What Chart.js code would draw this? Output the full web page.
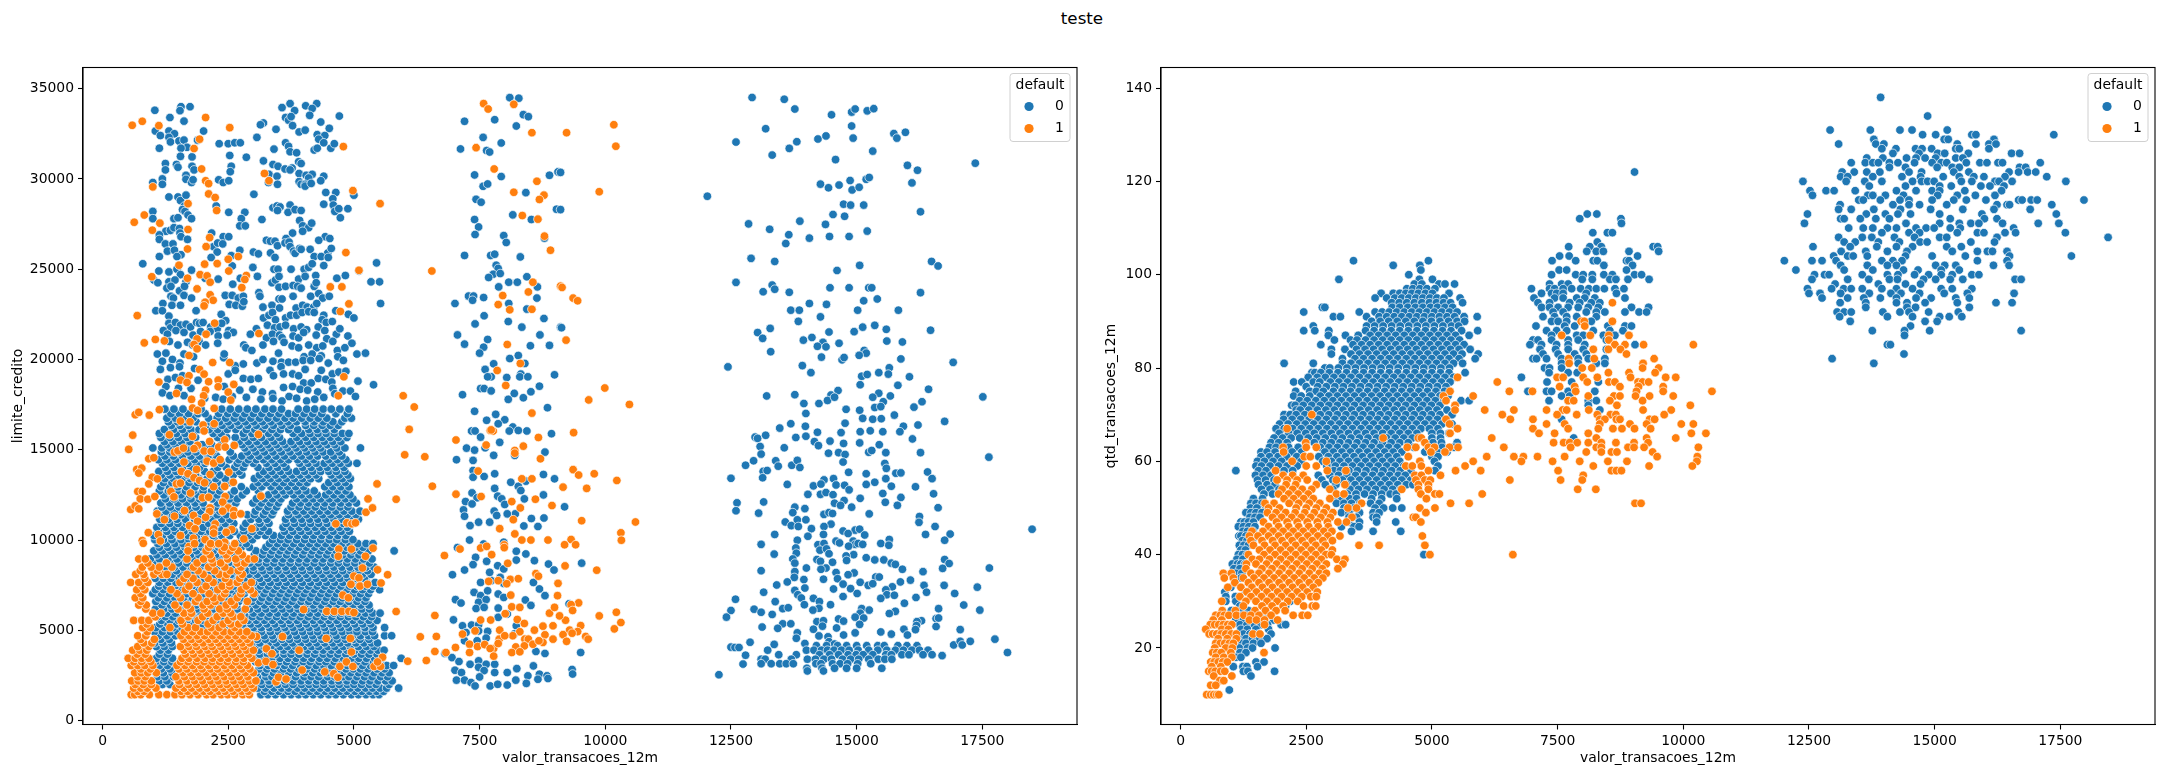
<!DOCTYPE html>
<html>
<head>
<meta charset="utf-8">
<title>teste</title>
<script src="https://cdn.jsdelivr.net/npm/chart.js@4/dist/chart.umd.min.js"></script>
<style>
  html, body { margin: 0; padding: 0; background: #fff; }
  #title { position: absolute; left: 0; width: 2164px; top: 8px; text-align: center;
           font: 16.7px "DejaVu Sans"; color: #000; }
  canvas { position: absolute; top: 0; }
</style>
</head>
<body>
<div id="title">teste</div>
<canvas id="limitChart" width="1082" height="776" style="left:0"></canvas>
<canvas id="qtdChart" width="1082" height="776" style="left:1082px"></canvas>
<script>
// tick labels
const xTicks = [0, 2500, 5000, 7500, 10000, 12500, 15000, 17500];
const limitTicks = [0, 5000, 10000, 15000, 20000, 25000, 30000, 35000];
const qtdTicks = [20, 40, 60, 80, 100, 120, 140];
const groups = ['0', '1'];

// limite_credito, default 0, read as x,y,x,y...
const limitBlueUpper = [
3730,34170,4260,34170,1560,34000,1740,34000,3570,33950,4040,34050,4170,33900,1040,33800,1540,33780,3820,33780,
1340,33400,1620,33200,3640,33400,3700,33250,3750,33450,4120,33520,4710,33480,4340,33150,1050,32650,1150,32400,
1320,32650,1430,32500,2010,32650,3450,32750,3780,32950,3910,32600,4030,32700,4510,32800,3070,32300,3200,33100,
3140,33000,1320,32300,1350,32050,1520,32100,1620,32150,1680,31750,1560,31700,1130,31700,1890,32150,2320,31950,
2500,31950,2630,32000,2740,32000,4270,32450,4420,32400,4300,32200,4400,32000,3640,32000,3700,31800,3730,31500,
3860,31450,4210,31600,4270,31700,4540,31700,3410,31650,4610,31950,2530,31300,2860,31200,1550,31250,1780,31220,
1250,30850,1250,30500,1470,30800,1500,30650,1780,30700,1820,30500,2560,30700,2540,30400,3200,31000,3390,30800,
3490,30700,3630,30550,3770,30600,3730,30500,3900,30950,3950,30850,1660,30200,1660,29980,1770,29800,1800,29950,
3310,30250,3470,30150,3910,30300,4050,30200,4170,30250,4100,30050,4400,30150,1000,29800,1190,30000,1190,29700,
2310,29950,2400,29800,2510,29900,3300,29800,3480,29700,3910,29850,3950,29700,4030,29700,4030,29600,4150,29750,
4340,29900,3010,29150,4440,29250,4640,29250,1320,29000,1500,29000,1550,28800,1660,29100,4400,28600,4580,28900,
4590,28550,5000,29100,2260,28500,1630,28500,1590,28300,1640,28200,2510,28150,2830,28150,3390,28400,3470,28500,
3530,28450,3730,28550,3480,28250,3690,28150,3830,28300,3950,28250,4620,28200,4700,28350,1000,28200,4880,28350,
1000,27800,1420,27800,1500,27850,1700,28000,1770,27800,2760,27800,3170,27750,4730,27850,1260,27100,1350,27150,
1420,27300,1530,27250,1540,27000,1560,26800,2170,27000,2730,27400,2840,27400,3920,27700,3980,27400,4100,27300,
4160,27550,3980,27100,3780,27000,3650,26700,1130,26900,1130,26650,1250,26400,1400,26400,1690,26650,2400,26800,
2510,26800,3260,26600,3340,26550,3430,26550,3480,26300,3630,26450,3710,26500,3730,26250,4430,26800,4520,26700,
4300,26600,1290,26000,1430,26050,1560,25800,2210,26250,2290,26450,2280,25950,2390,26400,2730,26050,3000,25950,
3100,25850,3340,25900,3800,26000,3830,25880,3920,26150,3950,26100,4130,26100,4480,25900,4550,26150,1130,25700,
1480,25700,2160,25650,2560,25750,3430,25650,4210,25700,4350,25700,4490,25650,800,25300,1120,24900,1320,24850,
1480,25000,1550,24700,1770,24950,2040,24500,2580,25180,2990,25100,3410,25000,3490,25000,3750,25000,4010,25000,
4100,25100,4170,25300,4400,25200,1020,24400,1100,24250,1320,24300,1440,24400,1660,24300,2300,24450,2740,24500,
3080,24600,3370,24250,3440,24400,3510,24600,3900,24450,4030,24600,4240,24650,4660,24500,4830,24650,1280,23950,
1360,24050,1530,23800,1630,24050,2590,24170,3510,24000,3640,24050,3790,24100,3880,24050,3950,23950,4210,24050,
4250,24250,5340,24300,5510,24300,5100,24900,5450,25350,1360,23500,1410,23400,1620,23550,1770,23400,2440,23550,
2580,23550,2700,23400,2800,23500,3110,23700,3130,23500,3510,23350,3570,23350,3790,23500,4140,23500,4300,23650,
4380,23400,4510,23500,5530,23100,1200,23100,1380,23000,1550,23000,2030,23100,2520,23050,2650,23000,2780,22950,
2810,23200,3190,22900,3370,23000,3520,22850,3850,22850,3980,23000,4070,22900,4200,22900,4260,23100,4400,22450,
4640,22700,4890,22500,5000,22300,1060,22700,1190,22700,1320,22400,1860,22700,2360,22500,2450,22150,3200,22300,
3310,22450,3380,22600,3440,22200,3640,22300,3740,22450,3860,22450,3970,22600,4100,22650,4210,22600,4370,22200,
4450,22050,4570,22100,1320,22000,1350,21750,1450,22050,1550,21900,1660,21950,1750,21800,1870,22050,1930,22000,
2000,22050,2150,21800,2280,21700,2370,22000,2510,21600,2600,21500,3060,21700,3280,21900,3420,21750,3530,21800,
3640,21900,3800,21700,3950,21800,4060,21650,4290,21800,4420,21600,4650,21400,4720,21700,1210,21600,1290,21400,
1460,21600,1620,21500,1800,21350,1950,21550,2140,21550,2300,21300,2480,21350,2940,21400,3260,21200,3380,21400,
3520,21350,3570,21200,3790,21300,3900,21200,4000,21500,4250,21350,4460,21150,4580,21000,4880,21300,1330,21000,
1500,20800,1690,20950,1790,20800,1920,21000,2050,20800,2290,20900,2810,20800,2850,20650,3190,20800,3400,21000,
3610,20950,3770,20750,3900,20650,4100,20800,4260,20650,4380,20750,4670,20500,4820,20650,4960,20900,1090,20300,
1260,20350,1620,20300,1810,20150,2410,20100,2420,20300,2970,20500,3500,20350,4010,20150,4170,20300,4350,20200,
5060,20300,5230,20350,1190,19900,1390,20000,1540,19800,2640,19650,2800,19750,3070,19800,3190,20000,3390,19900,
3560,19850,3700,19850,3840,19850,3990,19950,4140,19950,4310,20050,4490,19800,4680,20150,4790,19950,1150,19450,
1350,19550,1530,19600,1830,19500,2500,19200,2640,19400,3330,19400,3550,19600,3400,19100,3600,19200,3780,19200,
3900,19100,4030,19450,4350,19400,4570,19200,4700,19300,4840,19350,1300,18900,1450,19000,1590,19100,1900,18850,
2800,18950,2950,18900,3100,18950,4000,18700,4150,18700,4290,18950,4440,18900,4560,18750,5080,18800,5390,18600,
1260,18500,1510,18400,1760,18400,2420,18500,2730,18300,2990,18350,3180,18200,3380,18100,3600,18450,3780,18500,
3930,18350,4080,18300,4280,18200,4580,18400,4780,18250,4930,18250,1190,18150,1340,18000,1620,18000,2030,17850,
2250,17900,2400,17800,2580,17950,2860,17900,3150,17800,3390,17850,3570,17700,3710,17950,3860,17850,4060,17700,
4220,17800,4400,17900,4620,18100,5030,17950
];

// limite_credito, default 0, rows of [limit, valor...] where the marks pile up
const limitBlueDense = [
[1440,3150,3290,3440,3600,3750,3900,4040,4190,4340,4500,4640,4790,4950,5090,5240,5380,5500],
[1620,3220,3370,3510,3690,3830,3980,4120,4270,4430,4560,4720,4860,5020,5160,5310,5450,5590],
[1800,3090,3240,3410,3560,3700,3880,4020,4180,4330,4480,4620,4780,4930,5080,5230,5370,5520,5650,5890],
[2000,1190,1340,3170,3320,3490,3640,3790,3960,4110,4250,4400,4570,4710,4870,5000,5150,5310,5440,5700],
[2200,1130,1280,3150,3310,3480,3620,3790,3950,4100,4260,4400,4560,4700,4860,5010,5170,5320,5480,5630,5760],
[2430,1090,1240,1410,3080,3250,3370,3560,3700,3840,4010,4150,4300,4480,4620,4780,4900,5060,5210,5360,5530,5670],
[2650,1060,1210,1380,3060,3230,3400,3550,3700,3860,4020,4180,4330,4470,4630,4780,4940,5090,5240,5400,5560,5700],
[2860,1170,1340,3110,3270,3420,3600,3740,3910,4060,4220,4360,4510,4680,4840,4990,5130,5280,5460,5610],
[3050,1130,1290,3130,3300,3460,3620,3780,3940,4090,4250,4400,4550,4710,4870,5010,5170,5330,5480,5650,5790],
[3260,1060,1220,1380,3040,3190,3350,3510,3660,3830,3990,4130,4310,4440,4610,4770,4920,5060,5220,5390,5520],
[3450,1070,1230,1390,3050,3210,3370,3530,3690,3850,4000,4160,4320,4470,4630,4790,4950,5100,5250,5410,5550,5940],
[3680,1130,1290,3130,3280,3440,3610,3750,3910,4070,4220,4390,4530,4680,4840,5000,5150,5300,5460],
[3900,1150,1310,3110,3290,3440,3600,3760,3930,4080,4240,4390,4550,4700,4860,5020,5170,5330,5480,5600],
[4100,1070,1230,1390,3030,3210,3350,3530,3680,3840,4010,4160,4300,4480,4620,4790,4930,5090,5250,5400],
[4300,1040,1200,1370,2970,3130,3300,3460,3620,3780,3950,4100,4260,4420,4580,4730,4880,5040,5200,5350,5470],
[4500,1160,1330,3080,3240,3400,3570,3720,3880,4040,4200,4360,4510,4670,4830,4990,5120,5300],
[4700,1110,1280,1450,3060,3220,3380,3550,3700,3860,4020,4180,4340,4490,4650,4810,4970,5130,5290,5410,5610,5750],
[4920,1030,1190,1350,1500,3010,3160,3340,3500,3650,3820,3980,4140,4280,4450,4600,4770,4920,5060,5230,5370],
[5150,1060,1230,1400,1580,1740,1900,2060,2220,2380,2540,2700,2860,3000,3160,3320,3470,3630,3790,3950,4110,4270,4420,4580,4740,4900,5060,5220,5380,5610],
[5350,1140,1300,1470,1640,1810,1970,2130,2290,2460,2620,2790,2950,3100,3270,3430,3590,3740,3910,4060,4220,4390,4540,4700,4850,5020,5180,5340],
[5550,1170,1340,1510,1680,1850,2010,2170,2330,2490,2660,2900,3060,3220,3380,3550,3710,3870,4030,4190,4340,4500,4660,4820,4980,5140,5300,5460],
[5750,1090,1250,1400,1560,1720,1880,2050,2210,2370,2530,2690,2850,2980,3130,3290,3460,3620,3770,3930,4090,4250,4410,4560,4730,4890,5040,5190,5350],
[5950,1120,1280,1450,1620,1790,1960,2120,2280,2440,2600,2760,3000,3160,3320,3480,3640,3800,3960,4120,4280,4440,4600,4750,4910,5070,5230,5370,5520],
[6180,1050,1220,1380,1550,1710,1870,2030,2200,2360,2520,2680,2930,3090,3250,3410,3580,3730,3890,4060,4210,4370,4530,4700,4850,5010,5160,5310],
[6400,1180,1350,1510,1700,1860,2020,2190,2350,2510,2670,2880,3050,3220,3380,3540,3700,3860,4030,4190,4350,4500,4660,4820,4980,5140,5300],
[6600,1060,1230,1390,1570,1730,1900,2060,2220,2390,2550,2710,2970,3130,3300,3450,3610,3770,3950,4100,4250,4420,4590,4730,4900,5060,5220],
[6800,1110,1280,1440,1610,1790,1950,2110,2280,2440,2600,2760,3000,3170,3330,3490,3650,3810,3970,4130,4290,4450,4610,4770,4930,5090,5240],
[7030,1000,1170,1330,1500,1670,1840,2000,2170,2330,2490,2660,2820,3040,3210,3380,3530,3690,3860,4010,4170,4340,4490,4650,4810,4980,5130,5290],
[7250,1050,1210,1380,1550,1720,1890,2060,2220,2390,2550,2710,2870,3090,3250,3410,3570,3730,3890,4050,4210,4370,4530,4690,4850,5010,5170,5330,5510],
[7450,1120,1270,1440,1610,1780,1950,2110,2280,2450,2610,2780,2950,3140,3300,3470,3620,3780,3950,4100,4270,4420,4580,4740,4910,5060,5230,5380],
[7650,1130,1300,1460,1630,1800,1970,2130,2300,2470,2630,2800,3010,3180,3340,3500,3660,3820,3980,4140,4300,4460,4620,4780,4940,5100,5260,5420],
[7880,1050,1210,1360,1530,1700,1870,2030,2200,2370,2530,2700,2860,2980,3130,3290,3460,3610,3770,3930,4090,4250,4410,4570,4730,4880,5050,5210],
[8100,1220,1390,1550,1720,1890,2060,2220,2390,2560,2720,2920,3080,3250,3410,3570,3730,3890,4050,4210,4370,4530,4690,4850,5010,5170,5340],
[8300,1140,1300,1470,1640,1810,1970,2140,2310,2470,2640,2850,3000,3190,3340,3490,3660,3820,3980,4140,4300,4460,4610,4780,4940,5100,5270],
[8500,1090,1260,1430,1600,1770,1940,2100,2270,2430,2600,2770,3000,3160,3320,3480,3640,3800,3960,4120,4280,4440,4600,4760,4920,5080,5240,5400],
[8730,1000,1170,1340,1510,1680,1850,2010,2180,2350,2510,2680,2930,3100,3260,3410,3570,3730,3900,4050,4210,4370,4540,4690,4860,5020,5170,5310],
[8950,950,1130,1300,1480,1650,1820,1990,2150,2320,2490,2650,2800,2950,3110,3270,3430,3590,3750,3910,4070,4230,4390,4550,4710,4870,5030,5190,5360],
[9180,1080,1250,1420,1580,1750,1920,2090,2250,2420,2590,3020,3180,3340,3500,3660,3820,3980,4150,4300,4460,4620,4780,4940,5100,5250],
[9400,1020,1190,1360,1530,1700,1870,2040,2200,2370,2540,3050,3210,3370,3530,3690,3850,4010,4170,4330,4490,4650,4810,4970,5130,5290,5800],
[9600,1130,1300,1470,1640,1810,1980,2150,2310,2480,2760,2920,3250,3420,3580,3740,3910,4060,4220,4380,4540,4700,4860,5030,5180],
[9800,1100,1270,1440,1600,1770,1940,2110,2280,2450,2700,2860,3320,3480,3640,3800,3960,4120,4280,4440,4600,4760,4920,5080,5240,5380],
[10020,1040,1210,1380,1560,1720,1880,2050,2220,2390,2770,2980,3380,3540,3690,3860,4020,4180,4340,4510,4660,4830,4980],
[10250,1020,1190,1360,1530,1700,1870,2030,2200,2370,2530,2740,2900,3080,3240,3400,3560,3720,3880,4040,4200,4360,4520,4680,4840],
[10480,1110,1280,1450,1620,1790,1960,2130,2290,2460,2620,2810,2980,3140,3300,3620,3790,3950,4110,4270,4430,4590,4750,4910],
[10700,1080,1250,1420,1590,1750,2000,2170,2330,2490,2800,3060,3200,3590,3750,3910,4070,4230,4390,4550,4710,4870],
[10920,1170,1340,1500,1670,1840,2110,2280,2440,2610,2850,3130,3310,3650,3820,3980,4140,4300,4470,4620,4790,4950],
[11150,1140,1310,1480,1650,1830,2000,2190,2370,2530,2950,3110,3270,3640,3800,3960,4120,4280,4440,4600,4760,4920,5090],
[11400,1220,1390,1560,1760,1930,2100,2280,2460,2880,3020,3200,3370,3700,3890,4060,4220,4380,4540,4710,4870,5040],
[11600,1090,1260,1430,1600,1770,1950,2160,2330,3040,3240,3400,3680,3840,4000,4160,4320,4480,4640,4800,4960,5120],
[11830,1180,1350,1520,1690,1860,2040,2250,2430,2600,3110,3290,3460,3750,3910,4080,4230,4400,4560,4730,4880],
[12050,1160,1330,1500,1670,1840,2000,2290,2470,2650,2990,3160,3330,3500,3780,3940,4100,4260,4420,4580,4740,4900,5050],
[12280,1250,1420,1590,1760,1930,2180,2360,2530,2680,3060,3220,3380,3550,3860,4030,4190,4340,4510,4670,4830,4980],
[12500,1220,1390,1560,1730,1900,2070,2280,2540,2780,3300,3470,3640,3800,3960,4120,4270,4440,4600,4760,4920],
[12720,1130,1310,1480,1650,1810,2000,2170,2330,2620,2860,3100,3420,3590,3730,3890,4050,4210,4510,4680,4840],
[12950,1160,1330,1500,1670,1840,2010,2370,2760,3000,3170,3350,3520,3680,3840,4000,4420,4580,4740,4900],
[13180,1210,1380,1550,1720,1890,2100,2280,2520,3090,3260,3430,3600,3760,3920,4070,4500,4670,4830],
[13400,1240,1410,1580,1750,1920,2080,2250,2440,3020,3180,3340,3500,3660,3820,3980,4140,4300,4610,4770,4930],
[13600,1170,1340,1510,1680,1850,2150,2330,2600,2770,3120,3280,3440,3600,3770,3930,4090,4250,4550,4710,4880],
[13800,1120,1290,1460,1630,2030,2200,2720,3200,3370,3540,3700,3860,4020,4180,4340,4500,4650,4820],
[14020,1250,1420,1590,1760,1930,2290,2460,2630,2800,3090,3310,3480,3650,3980,4150,4320,4470,4640,4800],
[14250,1190,1360,1530,1700,1870,2040,2360,2680,2840,3000,3260,3430,3600,3920,4090,4250,4410,4570,4730,4890,5060],
[14450,1110,1280,1450,1660,1830,2000,2170,2520,2710,2900,3060,3200,3370,3540,3700,3880,4040,4200,4500,4670,4840],
[14650,1240,1410,1590,1760,1930,2100,2270,2600,2770,2940,3110,3280,3450,3620,3790,3960,4120,4280,4440,4600,4760],
[14880,1170,1340,1520,1700,1860,2030,2190,2540,2880,3050,3220,3390,3560,3730,3900,4060,4230,4390,4540,4710],
[15100,1000,1180,1340,1510,1690,1860,2040,2250,2830,3000,3170,3340,3510,3680,3850,4020,4180,4340,4660,4820,5130],
[15280,1280,1450,1620,1800,1980,2170,2360,2620,2780,2950,3120,3290,3460,3630,3800,3970,4140,4300,4470,4620],
[15450,1230,1400,1570,1740,2720,2900,3070,3240,3410,3580,3750,3920,4080,4250,4410,4580,4740],
[15680,1160,1340,1510,1680,1850,2290,2470,2640,2820,3000,3160,3350,3520,3860,4040,4200,4370,4530,4690,4860],
[15900,1130,1300,1470,1640,1800,2200,2360,2800,2970,3300,3470,3790,3960,4130,4290,4450,4610,4770,4900],
[16120,1230,1410,1590,1760,1920,2120,2290,2480,2650,2860,3030,3180,3370,3540,3700,3880,4100,4270,4430,4610],
[16350,1370,1540,1710,2050,2210,2380,2550,2720,2890,3060,3230,3400,3570,3740,4040,4200,4370,4530,4690],
[16550,1310,1490,1660,1860,2130,2330,2500,2680,2840,3010,3180,3350,3530,3690,3860,4030,4210,4390,4580,4760],
[16750,1280,1450,1620,1800,2110,2280,2450,2620,2780,2950,3120,3290,3460,3630,3790,3960,4130,4290,4460,4820,4950],
[17000,1360,1530,1710,1900,2040,2310,2490,2650,2830,3000,3170,3340,3510,3700,3840,4010,4180,4360,4640,4870],
[17250,1240,1420,1600,1960,2370,2540,2710,2880,3050,3230,3390,3560,3890,4060,4220,4390,4550,4720,4900]
];

// mid group of the same series, x,y,x,y...
const limitBlueMid = [
8100,34500,8280,34470,7200,33190,7800,33280,8370,33560,8470,33450,8230,32930,7570,32300,7930,31990,7120,31660,
7640,31570,7700,31490,7400,30220,7930,30130,8890,30200,9060,30390,7570,29590,7660,29720,8420,29240,7430,28870,
7530,28710,9030,28320,8160,28010,7400,27750,8530,27750,7480,27340,7410,26920,7980,26860,8030,26480,8790,26720,
7200,25760,7720,25760,7800,25830,8310,25680,7830,25220,7870,25040,7770,24720,7910,24760,7680,24540,8440,24580,
8080,24280,8250,24280,8650,24020,7880,24020,7280,23510,7380,23510,7360,23280,7580,23430,8640,23400,7010,23100,
8080,23100,8440,22790,7590,22420,8780,22270,7410,21970,8070,22100,8340,21790,9110,21790,7060,21360,8700,21360,
7200,20850,7660,21110,7580,20680,8510,20760,8890,20780,7500,20350,8270,20220,8100,20050,7780,19760,8400,19780,
7610,19450,7730,19040,7660,19040,8320,19190,8300,19040,8460,19040,8990,19150,8040,19000,8690,18520,7520,18390,
7590,18390,7730,18260,8190,18120,8520,18210,7160,18050,8070,17790,8370,17880,7400,17130,8850,17330,7820,16960,
7640,16630,8000,16660,7870,16440,7340,16040,7410,16040,8160,16260,7520,15700,8090,16040,8440,16040,8270,16070,
8930,15890,7900,15410,7240,15090,7400,14980,7610,15110,8800,14870,7780,14690,8200,14690,7040,14450,7370,14410,
7370,13850,7800,13670,7370,13480,7590,13520,8770,13630,8990,13390,8120,13200,8420,13260,8270,12970,8320,12740,
7800,12860,7350,12610,7450,12340,7860,12430,7940,12280,8390,12280,8770,12500,7220,12130,7350,12000,8000,11970,
7180,11670,7790,11600,7200,11320,7840,11360,8210,11450,8050,11450,7480,10990,7700,10990,8530,11190,8780,11220,
7310,10800,8380,10780,8660,10750,7300,10000,7060,9580,7580,9780,7980,9880,8420,9230,8230,8890,8230,9380,
8590,8860,7420,9040,7640,8820,7370,8640,7200,8340,6960,8080,7860,8580,7700,8210,7980,8400,8870,8670,
8980,8340,7520,7650,7730,7750,7910,7930,7980,7600,8570,7650,8690,7290,7390,7100,7520,6920,7660,7190,
7870,7010,7980,6820,8800,6920,7020,6700,7130,6510,7480,6550,7630,6700,8410,6680,8520,6380,7430,6210,
7870,6230,7590,6270,8050,5900,6980,5580,7160,5250,7340,5290,7480,5310,7870,5720,8230,5250,7230,4880,
7480,4970,7660,4940,8190,4800,7200,4420,7450,4420,7630,4570,8620,3830,8800,3720,6810,3720,6950,3490,
7090,3270,7310,3120,7480,3310,7630,3120,7800,3120,7010,2790,7140,2660,7480,2950,7590,2770,7800,2660,
8050,2660,8240,2880,8460,2480,8690,2570,8840,2480,8570,3030,7040,2240,7200,2240,7330,2110,7410,1920,
7500,2420,7710,1920,7860,2010,8050,1970,8220,2240,8430,2060,8660,2290,8860,2330,9110,30360,9110,28300,
9130,21760,9190,11840,9530,8720,9280,6470,9510,3770,9340,2830,9350,2580
];

// far group of the same series
const limitBlueFar = [
12920,34510,13560,34410,13770,33870,14500,33550,14900,33700,14970,33870,15210,33770,15340,33890,14900,32930,13190,32780,
12600,32040,13810,32060,13660,31690,13320,31320,14230,32210,14390,32380,14930,32260,15740,32510,15800,32260,15970,32580,
15320,31540,14580,31070,16010,30750,16210,30480,17360,30870,14280,29710,14440,29510,14650,29660,14870,29910,14910,29390,
15050,29540,15190,29980,15250,30080,16100,29780,12030,29040,14740,28600,14880,28550,15140,28550,16270,28180,14530,28030,
14760,27930,12850,27510,13270,27210,13870,27660,14380,27480,13650,26910,14060,26720,14460,26810,14850,26810,15210,27110,
13590,26420,12900,25600,13370,25430,15060,25210,14610,24930,16490,25430,16620,25180,12600,24270,13320,24120,13370,23890,
13140,23750,13660,23720,14470,23970,14850,23970,15240,23970,15300,23970,16270,23700,14400,23050,14060,23100,15140,23250,
15410,23350,13690,22730,13860,22730,15020,22730,15830,22730,14280,22360,13840,22110,13280,21720,15120,21790,15360,21890,
15590,21670,16470,21620,13030,21490,14450,21520,14950,21540,13130,21170,13940,21070,14110,21220,14330,20950,14650,20900,
15600,21020,15910,20970,14220,20730,14390,20700,13290,20430,15150,20500,15190,20350,15050,20230,14300,20130,14710,19980,
14750,20110,15880,20030,12440,19590,13920,19660,15650,19540,16920,19840,14090,19270,15440,19270,15630,19190,15100,19070,
15210,19170,16050,19040,15070,18600,15820,18570,16430,18350,13770,18050,13210,17980,14490,18030,14630,18280,15440,18130,
15320,17910,15670,17980,17510,17930,13950,17560,14250,17560,14420,17730,14560,17910,15530,17660,16300,17660,14790,17240,
15060,17190,15360,17340,15480,17390,16140,17360,13990,17010,15750,16920,15120,16740,15320,16690,15490,16720,16750,16570,
13690,16440,13980,16300,14770,16470,13470,16200,15930,16300,16220,16370,12980,15700,13030,15630,13190,15800,14220,15970,
14690,15950,15070,16000,15270,16050,15520,16000,15860,16000,13790,15680,13990,15750,14160,15450,14470,15480,16110,15600,
13080,15180,14240,15230,14740,15350,15060,15380,15450,15280,13560,15110,13100,14760,14440,14810,14640,14840,14770,14740,
15240,14860,15300,14960,15580,14840,16270,14840,17630,14590,12950,14390,12790,14140,13390,14390,13440,14090,13710,14140,
13820,14410,13870,14020,14730,14320,15560,14240,15590,13970,13140,13800,13220,13850,14840,13750,15190,13670,15780,13700,
15880,13720,16410,13770,12500,13420,13130,13450,14350,13330,14540,13400,15580,13400,15360,13200,16500,13400,13620,13080,
14140,13000,14290,13100,14590,13050,14760,13030,14850,12780,15190,13080,15690,12980,16170,12950,14030,12530,14280,12530,
14390,12630,14530,12510,15520,12580,16530,12560,13150,12110,12620,12060,14750,12190,15070,12310,15570,12090,15880,12360,
14560,12040,14680,11920,15810,11920,12600,11620,13770,11820,13970,11740,14900,11820,16620,11790,13050,11490,13730,11520,
14350,11420,14450,11520,14520,11470,15250,11450,16250,11300,13820,11120,13990,11120,13580,11000,13700,10800,13840,10750,
14100,10630,14490,10880,14350,10750,16240,10980,16560,10750,14730,10500,14970,10550,15060,10600,14830,10360,13370,10310,
14030,10210,14340,10310,15160,10280,16370,10310,16860,10330,13820,9990,14590,9940,14660,9840,14930,9940,15650,10030,
16750,9990,13100,9760,13790,9560,14230,9740,14350,9810,14970,9760,14840,9660,15030,9810,15120,9760,15480,9810,
15640,9710,13360,9220,13800,9270,14270,9440,14400,9510,14450,9240,14940,9190,14790,9120,13730,8950,14210,8920,
14280,8820,14520,8770,14800,8870,15190,9020,15360,8900,15540,8900,16750,8920,16840,8700,13770,8720,15690,8720,
15770,8650,14000,8450,14390,8450,14290,8380,13100,8300,15910,8380,16710,8430,16320,8250,17640,8450,13770,8250,
14590,8200,14950,8180,14830,8080,13760,7930,13950,7810,14340,7830,14620,7860,15380,7950,15450,7950,13620,7680,
13410,7510,14730,7560,15070,7660,15230,7490,15320,7580,15870,7680,16070,7780,16340,7490,16740,7490,17400,7390,
13770,7210,13970,7340,14880,7310,14540,7290,15710,7410,15580,7240,13150,7110,13830,6970,16390,7110,15600,6970,
15750,6940,16950,7040,14140,6770,13900,6790,14260,6590,14730,6870,15010,7040,15480,6770,16180,6820,12590,6720,
13380,6590,13960,6420,14480,6420,14250,6220,15950,6500,17130,6400,13530,6200,13640,6250,12960,6170,14130,6120,
15100,6200,15250,6120,15770,6050,15650,5930,16630,6200,17450,6120,12500,6100,13100,6000,15070,5950,12410,5730,
13320,5880,14970,5730,15140,5680,14640,5630,14740,5510,16580,5650,16630,5680,14210,5480,14340,5530,16290,5530,
16200,5480,13530,5360,13690,5360,15060,5330,13120,5180,13430,5110,14140,5060,14320,5230,14600,5130,16190,5260,
16580,5210,15940,5060,17060,5040,15480,4910,15690,4790,16170,5040,13820,4860,14970,4860,14740,4740,14250,4690,
13800,4560,14430,4640,16010,4740,17750,4510,12880,4340,13360,4220,13970,4270,14450,4370,14560,4240,
12500,4070,12580,4050,12660,4050,12790,3620,12740,3130,12260,2540,16700,3600,16930,4190,17060,4390,17100,4190,
17260,4390,18000,3770,18490,10600
];
const limitBlueFarBand = [
[4150,14200,14400,14620,14800,15000,15200,15420,15550,15820,16000,16200],
[3900,13230,14000,14150,14300,14420,14550,14700,14850,15030,15240,15420,15600,15770,15930,16100,16250,16420],
[3650,13450,13800,14260,14460,14640,14830,14990,15130,15320,15580,15690,15900,16040,16320,16500],
[3400,13100,13180,13700,14020,14180,14350,14500,14720,14880,15040,15240,15430,15560,15700],
[3150,13100,13300,13470,13600,13740,14190,14290,14520,14670,14820,15020,15280],
[2900,14010,14310,14560,14800,15000,15500],
[2750,14020,14340]
];

// limite_credito, default 1
const limitOrangeSparse = [
590,32970,790,33190,1120,32950,2050,33400,2530,32840,1930,32200,1820,31680,1970,30550,2050,29900,2110,29740,
1000,29560,2110,29170,2240,28970,1700,28630,2270,28250,830,28000,630,27600,1140,27550,990,27160,1700,27200,
2130,26750,2060,26250,1690,26120,2700,25700,2500,25550,1520,25220,2030,25280,2280,25310,2510,24900,980,24580,
1690,24500,1940,24700,2080,24630,2140,24280,2860,24650,2830,24430,1880,23910,2770,23980,2140,23580,2200,23280,
2040,23170,2020,22970,690,22430,2230,22010,3110,21440,2060,21400,1880,21140,1820,20830,1050,21110,1230,21030,
830,20920,1880,20590,1720,20220,2190,19830,2530,19830,1930,19440,2020,19190,1720,19100,1550,18860,1120,18750,
1680,18730,2110,18770,2300,18860,2610,18620,2300,18490,2050,18300,1470,18120,2010,17990,2500,18190,1770,17790,
2550,17750,3220,30300,3310,29900,4790,31790,4980,29350,5520,28630,4840,25920,4530,24020,4760,24020,4900,23080,
4730,22660,5100,24940,6550,24900,4800,19040,4690,17990,5980,17990,7580,34170,7670,33870,8180,34130,8540,32560,
7430,31730,7790,30550,8640,29870,8180,29260,8780,29100,8690,28860,8350,27970,8660,27770,8790,26830,8910,26050,
9110,24060,8560,24280,8470,23740,7960,23540,7870,23040,8100,22750,8540,22780,8050,20830,8310,19780,7850,19390,
8020,18560,10170,33000,9230,32560,10210,31810,9880,29290,9140,23990,9360,23400,9450,23250,9220,21070,9990,18420,
9670,17760,10480,17510,9370,15950,9360,13900,9470,13600,9780,13670,10230,13300,9160,12930,9630,12860,9530,11070,
10600,11000,10310,10400,10320,9990,9320,10030,9190,9740,9410,9740,9200,8570,9830,8330,9470,6520,9320,6420,
9350,6100,10220,6000,9880,5800,9210,5560,10310,5430,10180,5080,9510,5260,9290,5010,9450,4930,9340,4840,
9160,4760,9610,4660,9660,4510,9230,4390,6200,17370,6100,16130,7030,15540,6010,14720,6410,14610,6560,12980,
5460,13110,7030,12540,5840,12260,5280,12280,5240,11540,5370,11780,6800,9140,5670,8080,5540,7620,5840,6040,
6610,5820,6640,4660,6320,4640,6070,3290,6440,3330,5570,3510,6610,3830,6830,3770,7020,4050,7160,4790,
7110,9500,7530,12410,7470,13820,7630,15260,7710,16070,7770,16040,7730,16100,8540,17030,8200,14960,8200,14810,
8370,15200,8670,15680,8710,14500,8340,13390,8540,13390,8610,12260,8940,11910,8140,12130,8310,11780,8170,11130,
7900,10630,8200,10340,8340,10000,8520,10000,8860,10000,7520,9560,7640,9650,7990,9730,7990,9580,7740,9190,
8060,8710,8620,8140,8670,8000,7680,7710,7870,7750,8110,7820,8270,7860,8040,7580,8120,6950,8140,6300,
8300,6270,8010,5920,8890,5950,8990,6270,9060,7600,9050,6920,9090,5800,7520,5570,7720,5570,8250,5600,
8390,5380,7410,4970,7900,5010,8300,4920,8590,5010,8760,5230,8960,5250,7890,4510,8160,4700,8000,4700,
8400,4510,8470,4510,8800,4750,8960,4510,7300,4230,7460,4100,7600,4210,7780,3990,7870,4270,8220,4080,
8390,4140,8560,4230,8760,4330,7300,3770,7710,3990,7780,3570,8140,3770,8300,3810,8680,4420,
520,15020,600,15810,650,16940,720,17070,930,16920,1130,17220,2220,17290,1790,17310,1890,17180,1970,17590,
1550,16590,1740,16550,2220,16440,2000,16370,2020,16040,1330,15830,1790,15740,3100,15850,1890,15240,2430,15550,
2130,15460,2620,15240,2310,15150,2440,15150,1430,14870,1500,14940,1610,15090,1820,15060,2020,14930,2160,14910,
920,14500,1020,14560,1620,14320,2080,14370,2210,14260,2340,14450,680,13910,780,13980,720,13710,1570,13800,
1700,13670,1870,13910,2140,13630,2510,13760,990,13480,1090,13390,1820,13450,1930,13300,1470,13110,1550,13150,
2030,13170,2210,12950,2430,12970,2600,13200,920,13110,700,12690,790,12690,1360,12690,1750,12600,1420,12390,
750,12280,900,12260,1040,12410,1990,12340,2110,12370,2440,12410,3150,12430,2390,12100,560,11690,650,11890,
720,11730,2140,11780,2500,11780,2610,11630,1630,11630,2130,11580,2390,11600,1080,11450,1430,11320,1810,11360,
2610,11360,2750,11450,1230,11130,2050,11260,1890,11040,2240,10890,1730,10800,1840,10620,2210,10620,2570,10580,
2970,10630,910,10410,2460,10430,1110,10300,1550,10250,2210,10380,1810,10100,2040,10020,790,9970,810,9820,
1150,9950,1720,9640,2180,9750,2430,9880,2810,10060,4640,10900,4860,10950,4960,10900,5030,10950,4700,9500,
4950,9500,5380,9550,5230,9100,4690,9100,5170,8450,5470,8350,5000,8000,5100,7900,4940,7550,5120,7450,
5270,7550,4780,6950,4890,6800,3910,3900,4000,6150,4460,6050,4610,6050,4760,6050,4900,6050,5000,5980,
3580,4650,3060,4650,4450,4550,4930,4550,3260,3980,3370,3700,3100,3200,3250,3280,3390,3100,3450,2150,
3500,2400,3650,2300,3970,2800,4420,2700,4600,2600,4680,2400,4720,3000,4850,3250,4950,3800,4980,3000,
5400,3000,5530,3000,5470,3250
];
const limitOrangeDense = [
[1440,570,640,760,930,1120,1280,1440,1580,1740,1900,2070,2200,2360,2490,2630,2790,2920],
[1620,700,830,1560,1690,1850,2010,2140,2310,2440,2600,2770,2900],
[1800,620,760,890,1060,1460,1620,1770,1930,2080,2240,2400,2550,2700,2850,3000],
[2000,650,810,970,1530,1710,1870,2030,2190,2340,2480,2660,2800,2960],
[2200,580,710,830,970,1520,1680,1830,1990,2150,2300,2460,2610,2760,2920,3050],
[2430,700,850,1460,1630,1790,1940,2110,2260,2420,2570,2720,2890],
[2650,640,770,900,1070,1600,1750,1910,2060,2220,2370,2530,2680,2840,3000],
[2860,760,950,1520,1680,1840,1980,2150,2290,2460,2620,2770,2930],
[3050,570,700,840,1000,1480,1640,1790,1950,2110,2260,2420,2570,2730,2880],
[3260,620,780,960,1550,1700,1870,2020,2180,2330,2480,2650,2800],
[3450,510,650,780,920,1580,1720,1880,2040,2190,2350,2500,2660,2810,2970],
[3680,690,850,1650,1810,1970,2130,2280,2440,2590,2750,2910],
[3900,600,740,880,1620,1780,1930,2090,2240,2400,2550,2710,2860,3000],
[4100,700,920,1550,1720,1870,2040,2180,2350,2510,2650,2810],
[4300,820,980,1690,1850,2000,2160,2310,2470,2620,2780,2930],
[4500,760,1030,1610,1770,1920,2110,2250,2410,2560,2720,2880],
[4700,700,860,1560,1720,1880,2030,2190,2340,2500,2650,2810,2960],
[4920,890,1630,1790,1950,2090,2260,2410,2560,2720,2870],
[5150,800,950,1340,1700,1850,2160,2320,2630],
[5350,880,1590,2100,2400,2550,2710],
[5550,620,780,920,1560,1900,2200,2500,2810],
[5750,1050,1700,1990,2280,2600,2750],
[5950,1000,1160,1620,1770,2090,2400,2550],
[6180,860,1500,1750,2020,2330,2480,2840],
[6400,720,870,1440,1680,2000,2150,2460,2620],
[6600,760,1850,2080,2240,2560,2880],
[6800,650,800,1550,1900,2210,2360,2680],
[7030,760,1480,1800,2120,2430,2750,3010],
[7250,680,840,1360,1650,1980,2290,2450,2760,2940],
[7450,790,1720,2060,2380,2530,2860],
[7650,560,720,900,1540,1880,2200,2520,2680,2960],
[7880,840,1620,1800,2100,2440,2730],
[8100,660,820,1020,1180,1280,1680,2000,2320,2470,2780],
[8300,750,1090,1900,2230,2540,2700],
[8500,790,970,1130,1380,1810,2110,2430,2750],
[8730,900,1270,1880,2200,2350,2680,2830],
[8950,720,850,1680,2010,2170,2490,2650,2900,3020],
[9180,2140,2460,2780],
[9400,1700,2060,2380,2540,2700],
[9600,2110,2420,2590],
[9800,1830,2150,2310,2630]
];

// qtd_transacoes_12m rows, [qtd, valor...]
const qtdBlueMain = [
[103,3440,4930],[102,4230,4760],[101,4780],[100,4540],[99,3150,4750,5010],[98,4650,4800,5140,5260,5450],
[97,4500,4620,4760,4900,5060],[96,3990,4230,4360,4480,4600,4730,4870,5010,5340],
[95,3870,4100,4260,4400,4540,4680,4820,4960,5100,5240,5560],[94,4200,4350,4500,4650,4800,4950,5090,5230,5370,5610],
[93,2820,2870,4210,4360,4520,4670,4820,4970,5110,5260,5410],
[92,2450,3555,3870,4010,4150,4300,4450,4600,4750,4900,5050,5200,5350,5500],
[91,3040,3180,3700,3950,4100,4250,4400,4550,4700,4850,5000,5150,5300,5450,5640,5900],
[90,3800,3970,4140,4310,4480,4650,4820,4990,5160,5330,5500,5650],
[89,2640,3700,3860,4030,4200,4370,4540,4710,4880,5050,5220,5390,5530],
[88,2450,2670,2950,3680,3850,4020,4190,4360,4530,4700,4870,5040,5210,5380,5590,5910],
[87,2940,3280,3535,3770,3940,4110,4280,4450,4620,4790,4960,5130,5300,5470,5740],
[86,3060,3380,3510,3680,3850,4020,4190,4360,4530,4700,4870,5040,5210,5380,5550],
[85,2790,3430,3600,3770,3940,4110,4280,4450,4620,4790,4960,5130,5300,5470,5640],
[84,3000,3270,3500,3670,3840,4010,4180,4350,4520,4690,4860,5030,5200,5370,5540,5760],
[83,3000,3390,3560,3730,3900,4070,4240,4410,4580,4750,4920,5090,5260,5430,5600,5920],
[82,3220,3470,3640,3810,3980,4150,4320,4490,4660,4830,5000,5170,5340,5540,5860],
[81,2060,2640,3220,3390,3560,3730,3900,4070,4240,4410,4580,4750,4920,5090,5260,5430,5610],
[80,2870,2970,3140,3310,3480,3650,3820,3990,4160,4330,4500,4670,4840,5010,5180,5350],
[79,2610,2670,2790,2960,3130,3300,3470,3640,3810,3980,4150,4320,4490,4660,4830,5000,5170,5340,5660],
[78,2540,2720,2880,3050,3220,3390,3560,3730,3900,4070,4240,4410,4580,4750,4920,5090,5260,5430],
[77,2250,2410,2640,2770,2980,3150,3320,3490,3660,3830,4000,4170,4340,4510,4680,4850,5020,5190,5360],
[76,2500,2730,2900,3070,3240,3410,3580,3750,3920,4090,4260,4430,4600,4770,4940,5110,5280],
[75,2290,2570,2700,2840,3040,3210,3380,3550,3720,3890,4060,4230,4400,4570,4740,4910,5080,5250],
[74,2250,2400,2570,2780,2950,3120,3290,3460,3630,3800,3970,4140,4310,4480,4650,4820,4990,5160,5320],
[73,2370,2520,2690,2860,3030,3200,3370,3540,3710,3880,4050,4220,4390,4560,4730,4900,5070,5240,5580,5740],
[72,2210,2280,2440,2610,2780,2950,3120,3290,3460,3630,3800,3970,4140,4310,4480,4650,4820,4990,5160],
[71,2300,2380,2550,2720,2890,3060,3230,3400,3570,3740,3910,4080,4250,4420,4590,4760,4930,5100,5300],
[70,2060,2180,2300,2470,2780,2950,3120,3290,3460,3630,3800,3970,4140,4310,4480,4650,4820,4990,5160,5400],
[69,2050,2220,2390,2560,2730,2900,3070,3240,3410,3580,3750,3920,4090,4260,4430,4600,4770,4940,5110],
[68,1970,2140,2310,2480,2650,2820,2990,3160,3330,3500,3670,3840,4010,4180,4350,4520,4690,4860,5030,5200,5400],
[67,1900,2060,2230,2400,2570,2740,2910,3080,3250,3420,3590,3760,3930,4100,4270,4440,4610,4780,4950,5120],
[66,1960,2150,2320,2490,2660,2830,3000,3170,3340,3510,3680,3850,4020,4190,4360,4530,4700,5000,5170,5340],
[65,1860,2030,2200,2370,2540,2710,2880,3050,3220,3390,3560,3730,3900,4100,4270,4440,4610,5000,5170],
[64,1800,1950,2120,2660,2830,3000,3170,3340,3510,3680,3850,4020,4190,4360,4530,5020,5190,5500],
[63,1770,1900,2150,2340,2780,2950,3120,3290,3460,3630,3800,3970,4140,4310,4640,5200,5440],
[62,1600,1720,1880,2220,2410,2870,3040,3210,3380,3550,3720,3890,4060,4230,4400,4860,5100,5300],
[61,1600,1770,1940,2110,2310,2750,2940,3110,3280,3450,3620,3790,3960,4130,4300,5000,5120],
[60,1530,1670,1840,2010,2400,2830,3000,3170,3340,3510,3680,3850,4020,4190,4360,5050],
[59,1500,1610,1780,1950,2120,2320,2910,3080,3250,3420,3590,3760,3930,4100,4270,4440,5120],
[58,1100,1550,1700,2060,2230,3050,3180,3350,3520,3690,3860,4030,4200,4370,4580,5060],
[57,1490,1640,1800,2740,2970,3140,3310,3480,3650,3820,3990,4160,4330,4470],
[56,1530,1690,1860,2810,3030,3220,3390,3560,3730,3900,4070,4240,4400,4580],
[55,1550,1720,1880,2880,3090,3300,3470,3640,3810,3980,4150,4320,4490,4620],
[54,1610,1780,1960,3030,3370,3540,3710,3880,4050,4220,4380],
[53,1660,1830,3320,3490,3660,3830,4000,4170,4290],
[52,1450,1630,3050,3200,3360,3500,3800,4000,4300],
[51,1400,1500,1620,3100,3250,3400,3570,3780,3950],
[50,1390,1520,1700,3250,3450,3870,4040,4220,4400],
[49,1300,1400,1500,1620,3200,3350,3560,3830,3950],
[48,1380,1480,1580,3350,3500,3830,3900],
[47,1200,1270,1350,1450,3350,3560,3900,4280],
[46,1150,1250,1360,1480,3200,3450,3550],
[45,1240,1330,1440,3400,3830,4380],
[44,1160,1200,1300,1400],
[43,1230,1320,1430],[42,1170,1260,1350],[41,1200,1290],[40,1150,1230,1320,4840],[39,1120,1240],[38,1030,1130,1200,1280],
[37,1060,1180],[36,1100,1220],[35,1200],[33,1000],[32,880,1290],[31,900,1090],[30,900,1100,2180],[29,2090,1180],
[28,1010,1200,1350],[27,1150,1310,1620,1760],[26,1100,1250,1400,1540,1850],[25,1020,1180,1320,1470,1600,1730,2000,2090],
[24,1200,1330,1500,1750],[23,1250,1380,1550,1800],[22,1150,1300,1430,1580,1720],[21,1220,1300,1450,1600],
[20,1170,1330,1430,1880],[19,1180,1300],[18,1100,1200],[17,1500,1660],[16,1050,1240,1320,1530],[15,1250,1340,1870],[14,1400],[11,970]
];

const qtdBlueMid = [
[122,9030],[113,8090,8280],[112,7940,8760],[111,8770],[109,8200,8490,8590],[107,8290],
[106,7720,8140,8370,9400,9490],[105,8080,8270,8410,8920,9510],[104,7540,7730,9090],
[103,7390,7860,8210,8290,8870,8920],[102,8420,8990],[101,7530,7680,8870],
[100,7380,7860,8010,8190,8420,8590,9030,9170],[99,7990,8190,8540,8660,8900,9320],[98,7340,7580,7710],
[97,6980,7340,7440,7610,7780,7960,8120,8270,8430,8640,8820],[96,7180,7380,7480,7610,8070,8670],
[95,7030,7440,7610,7880,8040,8240,8840],[94,7110,7340,7740,7940,8170,8340],
[93,7180,7340,7510,7710,7910,8110,8310,8970,9310],[92,7410,7610,8070,8270,8440,8840,9120,9270],
[91,7210,7440,7680,7880,8270],[90,7380,7510,7680,8170],[89,7070,7640,7840,8500,8840,8970],
[88,7280,7480,7680,8210,8540,8800],[87,7380,7880,8010,8410,8640],[86,7010,7110,7380,7710,7910,8470],
[85,6950,7180,7480,7710,8040,9040],[84,7150,7460,7710,8010,8470],[83,7210,7510,7840,8070],
[82,7010,7080,7280,7580,7910,8110,8440],[81,7580,7910,8270,8440],[80,7240,7340,7580],[79,7330,7710,7890],
[78,6780],[77,7290,7780,8310],[75,6910,7280,7380,7710,8240],[74,7580,7740],[73,7330,7710,8110,8270],
[72,8110],[71,8340],[69,7580],[65,7820]
];

const qtdBlueFar = [
[138,13925],[134,14860],
[131,12920,13720,14310,14550,15250],[130,14760,15020,15740,15820,17370],[129,13790,15190,15270,16180],
[128,13090,13830,13990,15450,15820,16080,16220],[127,13950,14230,14620,14750,14940,15420,15490,16080],
[126,14170,14690,15060,15200,15670,16530,16690],[125,13650,13970,14440,14630,14810,15020,15420,15560],
[124,13340,13620,13770,13880,14100,14270,14600,14950,15130,15240,15630,15900,16040,16260,16350,17100],
[123,14100,14420,15050,15350,15490,16690,16810],
[122,13160,13400,13650,13910,14490,14740,15380,15680,16480,16670,16850,17010],
[121,13130,13270,13770,14350,14720,15170,15490,15780,15980,16400,17230],
[120,12380,13240,13610,13950,14560,14740,14860,14990,15530,15740,16200,16280,16540,17610],
[119,13700,14420,15100,15330,15920,16100,16380],
[118,12520,12840,13000,13420,14240,14630,14950,15100,15600,16330],
[117,12570,13670,13770,14020,14380,15060,15450,15810,16200],
[116,13490,13580,13920,14310,14490,14950,15380,15630,16020,16670,16740,16920,17040,17970],
[115,13120,14170,14490,14700,15240,16240,16440,16490,17330],
[114,13090,13340,13790,14320,14920,15560,16180,16900],
[113,12470,13640,14020,14270,14520,15100,15940,17420],
[112,13130,13200,13520,13830,14100,15310,15990,16240],
[111,12410,14430,15100,15490,15720,15880,16350,17060,17470],
[110,13290,13580,13770,14060,14240,14630,14830,14990,15310,15510,16570],
[109,13950,14490,14700,15450,15850,15980,16400,16610,17600],
[108,13090,13560,13750,14200,14600,15100,15240,16240,18450],
[107,13200,13420,13880,14300,14710,14850,15720,16190],
[106,12580,13320,13850,14240,14560,15240,15530],
[105,13140,13630,14060,14450,15350,15850,16050,16150,16440],
[104,12990,13270,13380,13660,14420,14950,15610,16490,17720],
[103,12010,12560,12760,13040,13950,14170,14350,15850,16440],
[102,13130,13660,14060,14240,15020,15200,15420,16170,16480],
[101,12240,13200,13770,14380,14670,15130,15490],
[100,12610,12810,12900,13560,14060,14270,14600,14880,15130,15350,15740,15880],
[99,12560,13270,13690,14100,14260,14780,15020,15310,15560,16600,16720],
[98,13020,13880,14420,14720],
[97,12470,12950,13190,13340,13560,13950,14240,14560,15130,15350,15740],
[96,12500,12720,13130,13700,14130,14330,14700,15190,15650,16580],
[95,12760,13270,13590,13920,14240,14630,14930,15420,15690],
[94,13120,13630,14240,14450,14810,15450,16220,16540],
[93,13630,14450,14620,15690],
[92,13060,13200,13340,13970,14310,14490,14880,15470],
[91,13110,14060,14560,15100,15290,15540],
[90,13320,14810,15050],[89,14520],[88,13760,14400,14900,16720],[87,14400],[85,14060,14120],[83,14390],[82,12960],[81,13790]
];

const qtdOrangeMain = [
[78,5510],[77,6300],[75,5360,6540],[74,5230,5820],[73,5280],[72,5460],[71,5460,6050],
[70,2610],[69,5280],[68,5350],[67,2120,5510],[66,5360],[65,4030,4730,4790,6190],
[64,2490,4860],[63,2040,2500,2700,4510,4680,4930,5050,5350,5520],
[62,2050,4980,5260],[61,2460,2580,4530,6090],
[60,2220,2900,4760,5820],[59,2500,2700,4480,4610,4790,5660],
[58,1890,2920,3290,4930,5470,5970],[57,2040,2230,2440,4660,4790,5170],
[56,1920,2120,2320,2520,3100,4680,4860,4970],[55,2100,2290,2700,3270,4730,4930],
[54,2020,2230,2420,2610,2970,4400,4730,4930],[53,1950,2150,2340,2540,3100,3250,4780,5060,5150,6000],
[52,2060,2250,2450,2640,2970,4890],[51,1680,1860,2160,2350,2560,2770,3600,5370,5740],
[50,1750,1970,2300,2500,2700,2900,3330,3500,4760,5060],[49,1730,1900,2090,2280,2470,2660,2850,3030,4880],
[48,1830,2010,2210,2400,2590,2790,2980,3410,4630,4680],[47,1650,1910,2120,2320,2520,2720,2920,3130,3300,4780],
[46,1750,1950,2150,2350,2550,2740,2940],[45,1420,1640,1840,2040,2240,2440,2640,2850,3010],
[44,1370,1540,1750,1950,2150,2340,2530,2730,2930,3170,4810],[43,1400,1620,1830,2020,2220,2420,2620,2830,3020],
[42,1450,1670,1880,2090,2290,2490,2690,2880,3550,3950,4860],[41,1570,1780,1990,2190,2400,2600,2800,3020],
[40,1350,1660,1880,2090,2290,2490,2690,2890,3000,4960,6610],[39,1430,1570,1770,1990,2190,2400,2600,2800,3110,3270],
[38,1310,1500,1710,1910,2110,2310,2510,2710,2900,3230],[37,1300,1620,1820,2020,2220,2420,2620,2820,3130],
[36,850,1010,1400,1560,1760,1960,2160,2360,2560,2760,2900],[35,870,1050,1250,1460,1660,1860,2060,2260,2460,2660,2830],
[34,1080,1350,1560,1760,1960,2160,2360,2560,2740],[33,940,1200,1420,1630,1830,2030,2230,2430,2640],
[32,1320,1510,1720,1930,2120,2320,2520,2720],[31,1180,1400,1610,1810,2010,2210,2410,2590,2700],
[30,820,1300,1500,1720,1920,2130,2330],[29,1250,1620,1820,2040,2450,2620,2690],[28,830,1090,1480,1690,1900,2080],
[27,700,790,870,960,1110,1260,1400,1560,1800,2240,2420,2530],[26,650,820,1370,1510,1670,1930],
[25,590,680,760,850,940,1020,1670],[24,500,820,950],[23,570,640,720,810,900,1010,1110,1440,1580],
[22,750,930,1110],[21,700,790,880,970,1050],[20,680,900,1030],[19,640,720,810,1000,1660],[18,700,860,1020],
[17,600,670,750,840,930],[16,620,800],[15,560,620,690,800,880],[14,660,1020],[13,780,860],[12,600,700],[10,520,600,660,720,760]
];

const qtdOrangeMid = [
[94,8590],[90,7970,8030,8590],[89,8040],[87,7580,8150,8520,8920],[86,8520],[85,8640,8840,9210,10200],
[84,8210,8510,8750],[83,8870],[82,7720,8230,9420],[81,7730,9200],[80,7990,8180,9190,9510],[79,8510,8920,9440],
[78,7490,7610,8010,8290,8950,9650,9850],[77,8090,8520,8640,9100,9190,9310],[76,7540,7840,8740,9110,9600],
[75,7000,7860,9070,9600,10570],[74,8110,8620,8740,9050,9330,9800],[73,7710,7820,8540,9190],[72,8680,10140],
[71,6630,7280,7600,7680,8120,9200,9760],[70,6400,7490,7880,8290,8550,8660,9620],
[69,6560,7010,8340,8440,8670,8740,9330,9430],[68,7280,7640,8340,8940,9270,9960,10200],
[67,7010,7710,8310,8600,8780,9030,9350],[66,7130,7440,8110,10160,10450],[65,8270,9270,9850],
[64,7420,7620,7740,7890,8110,8370,8660,9020,9300],[63,6430,7760,8270,8370,8900,9020,9220,10300],
[62,8070,8370,8570,8680,9390],[61,6630,6820,7100,7640,9480,10280],[60,6780,7400,7940,8500,8880,10270],
[59,8210,9320,10180],[58,7510,8570,8670,8770],[57,8010],[56,6550,7560,7990],[54,7900,8260],[51,9040,9160]
];

const blue = '#1f77b4';
const orange = '#ff7f0e';

function fromPairs(flat) {
    let points = [];
    for (let i = 0; i < flat.length; i += 2) {
        points.push({ x: flat[i], y: flat[i + 1] });
    }
    return points;
}

function fromRows(rows) {
    let points = [];
    rows.forEach(row => {
        row.slice(1).forEach(x => points.push({ x: x, y: row[0] }));
    });
    return points;
}

// frame on all four sides and the legend box in the upper right corner
const framePlugin = {
    id: 'frame',
    afterDraw(chart) {
        const { ctx, chartArea: a } = chart;
        ctx.save();
        ctx.strokeStyle = '#000';
        ctx.lineWidth = 1.1;
        ctx.strokeRect(a.left, a.top, a.right - a.left, a.bottom - a.top);

        const w = 60, h = 68;
        const x = a.right - w - 7, y = a.top + 6;
        ctx.beginPath();
        ctx.roundRect(x, y, w, h, 3);
        ctx.fillStyle = 'rgba(255,255,255,0.8)';
        ctx.fill();
        ctx.strokeStyle = '#d0d0d0';
        ctx.lineWidth = 1;
        ctx.stroke();

        ctx.fillStyle = '#000';
        ctx.font = '13.9px "DejaVu Sans"';
        ctx.textBaseline = 'middle';
        ctx.textAlign = 'center';
        ctx.fillText('default', x + w / 2, y + 12);
        [blue, orange].forEach((c, i) => {
            const rowY = y + 33 + i * 22;
            ctx.beginPath();
            ctx.arc(x + 19, rowY, 4.6, 0, Math.PI * 2);
            ctx.fillStyle = c;
            ctx.fill();
            ctx.fillStyle = '#000';
            ctx.textAlign = 'left';
            ctx.fillText(groups[i], x + 45, rowY);
        });
        ctx.restore();
    }
};

function makeChart(id, cfg) {
    const dataset = (label, data, color, order) => ({
        label: label,
        data: data,
        order: order,
        backgroundColor: color,
        borderColor: '#fff',
        borderWidth: 0.7,
        pointRadius: 4.3
    });
    const axisTicks = list => scale => { scale.ticks = list.map(v => ({ value: v })); };
    const grid = { drawOnChartArea: false, drawTicks: true, tickLength: 5, tickColor: '#000', tickWidth: 1.1 };
    const border = { display: true, color: '#000', width: 1.1 };
    const font = { family: 'DejaVu Sans', size: 13.9 };

    new Chart(document.getElementById(id), {
        type: 'scatter',
        data: {
            datasets: [
                dataset(groups[0], cfg.blue, blue, 2),
                dataset(groups[1], cfg.orange, orange, 1)
            ]
        },
        options: {
            responsive: false,
            animation: false,
            events: [],
            layout: { padding: { left: 0, right: cfg.right, top: 67.5, bottom: 0 } },
            plugins: { legend: { display: false }, tooltip: { enabled: false } },
            scales: {
                x: {
                    type: 'linear',
                    min: -389,
                    max: 19383,
                    grid: grid,
                    border: border,
                    afterBuildTicks: axisTicks(xTicks),
                    afterFit: s => { s.height = 51.5; },
                    ticks: { color: '#000', font: font, padding: 4, maxRotation: 0, callback: v => String(v) },
                    title: { display: true, text: 'valor_transacoes_12m', color: '#000', font: font, padding: { top: 0, bottom: 9 } }
                },
                y: {
                    type: 'linear',
                    min: cfg.ymin,
                    max: cfg.ymax,
                    grid: grid,
                    border: border,
                    afterBuildTicks: axisTicks(cfg.ticks),
                    afterFit: s => { s.width = cfg.left; },
                    ticks: { color: '#000', font: font, padding: 4, callback: v => String(v) },
                    title: { display: true, text: cfg.ylabel, color: '#000', font: font, padding: { top: cfg.titleGap, bottom: 0 } }
                }
            }
        },
        plugins: [framePlugin]
    });
}

makeChart('limitChart', {
    blue: fromPairs(limitBlueUpper).concat(fromRows(limitBlueDense), fromPairs(limitBlueMid), fromPairs(limitBlueFar), fromRows(limitBlueFarBand)),
    orange: fromPairs(limitOrangeSparse).concat(fromRows(limitOrangeDense)),
    ticks: limitTicks,
    ymin: -216,
    ymax: 36170,
    ylabel: 'limite_credito',
    left: 83,
    right: 4,
    titleGap: 10
});

makeChart('qtdChart', {
    blue: fromRows(qtdBlueMain).concat(fromRows(qtdBlueMid), fromRows(qtdBlueFar)),
    orange: fromRows(qtdOrangeMain).concat(fromRows(qtdOrangeMid)),
    ticks: qtdTicks,
    ymin: 3.6,
    ymax: 144.4,
    ylabel: 'qtd_transacoes_12m',
    left: 79,
    right: 9,
    titleGap: 21
});
</script>
</body>
</html>
